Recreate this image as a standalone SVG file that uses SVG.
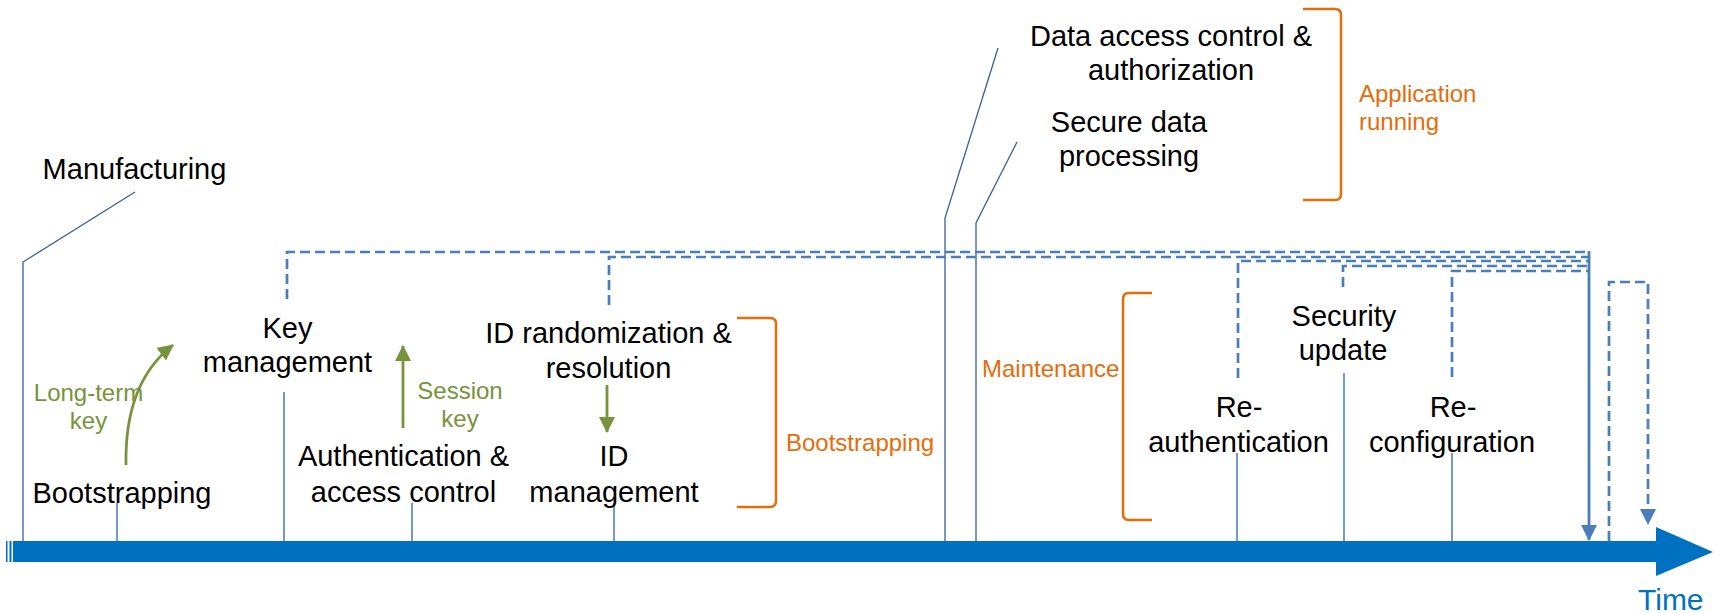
<svg xmlns="http://www.w3.org/2000/svg" width="1719" height="613" viewBox="0 0 1719 613">
<style>
text{font-family:"Liberation Sans",Arial,sans-serif}
.lbl{font-size:29px;fill:#000;text-anchor:middle}
.grn{font-size:24px;fill:#77933C;text-anchor:middle}
.org{font-size:24px;fill:#E46C0A}
.tick{stroke:#4F81BD;stroke-width:1.6;fill:none}
.lead{stroke:#3A5F9A;stroke-width:1.3;fill:none}
.dash{stroke:#4A7EBB;stroke-width:2.7;fill:none;stroke-dasharray:10 5}
.brk{stroke:#E46C0A;stroke-width:2.5;fill:none}
.garr{stroke:#77933C;stroke-width:2.8;fill:none}
</style>
<defs>
<marker id="ga" viewBox="0 0 16 16" refX="15" refY="8" markerWidth="16" markerHeight="16" markerUnits="userSpaceOnUse" orient="auto"><path d="M0,0 L16,8 L0,16 z" fill="#77933C"/></marker>
<marker id="ba" viewBox="0 0 16 16" refX="15" refY="8" markerWidth="16" markerHeight="17" markerUnits="userSpaceOnUse" orient="auto"><path d="M0,0 L16,8 L0,16 z" fill="#4A7EBB"/></marker>
</defs>

<g id="timeline">
<rect x="6" y="541" width="1.5" height="21" fill="#0070C0"/>
<rect x="9.5" y="541" width="2" height="21" fill="#0070C0"/>
<rect x="13" y="541" width="1645" height="21" fill="#0070C0"/>
<polygon points="1656,527 1713,552 1656,576" fill="#0070C0"/>
<text x="1638" y="610" style="font-size:30px;fill:#0070C0">Time</text>
</g>

<g id="connectors">
<path class="lead" d="M135,192 L23,262 L23,541"/>
<path class="lead" d="M998,48 L945,218 L945,541"/>
<path class="lead" d="M1017,142 L976,223 L976,541"/>
<line class="tick" x1="117" y1="503" x2="117" y2="541"/>
<line class="tick" x1="284" y1="392" x2="284" y2="541"/>
<line class="tick" x1="412" y1="503" x2="412" y2="541"/>
<line class="tick" x1="614" y1="503" x2="614" y2="541"/>
<line class="tick" x1="1237" y1="453" x2="1237" y2="541"/>
<line class="tick" x1="1344" y1="373" x2="1344" y2="541"/>
<line class="tick" x1="1452" y1="453" x2="1452" y2="541"/>
<path class="dash" d="M287,299 L287,252 L1588,252"/>
<path class="dash" d="M609,305 L609,257 L1588,257"/>
<path class="dash" d="M1238,378 L1238,261 L1588,261"/>
<path class="dash" d="M1343,287 L1343,266 L1588,266"/>
<path class="dash" d="M1452,377 L1452,271 L1588,271"/>
<path d="M1589,251 L1589,540" stroke="#4A7EBB" stroke-width="2.8" fill="none" marker-end="url(#ba)"/>
<path class="dash" d="M1609,541 L1609,282 L1648,282 L1648,524" marker-end="url(#ba)"/>
<path class="garr" d="M126,465 C125,413 138,372 173,345" marker-end="url(#ga)"/>
<path class="garr" d="M403,428 L403,346" marker-end="url(#ga)"/>
<path class="garr" d="M607,385 L607,432" marker-end="url(#ga)"/>
</g>

<g id="manufacturing"><text class="lbl" x="134.5" y="179">Manufacturing</text></g>
<g id="bootstrapping"><text class="lbl" x="122" y="503">Bootstrapping</text></g>
<g id="long-term-key"><text class="grn" x="88.5" y="401">Long-term</text><text class="grn" x="88.5" y="429">key</text></g>
<g id="key-management"><text class="lbl" x="287.5" y="338">Key</text><text class="lbl" x="287.5" y="372">management</text></g>
<g id="session-key"><text class="grn" x="460" y="399">Session</text><text class="grn" x="460" y="427">key</text></g>
<g id="authentication"><text class="lbl" x="403.5" y="466">Authentication &amp;</text><text class="lbl" x="403.5" y="502">access control</text></g>
<g id="id-randomization"><text class="lbl" x="608.5" y="343">ID randomization &amp;</text><text class="lbl" x="608.5" y="378">resolution</text></g>
<g id="id-management"><text class="lbl" x="614" y="466">ID</text><text class="lbl" x="614" y="502">management</text></g>
<g id="bootstrapping-phase">
<path class="brk" d="M737,318 L770,318 Q776,318 776,324 L776,501 Q776,507 770,507 L737,507"/>
<text class="org" x="786" y="451">Bootstrapping</text>
</g>
<g id="data-access"><text class="lbl" x="1171" y="46">Data access control &amp;</text><text class="lbl" x="1171" y="80">authorization</text></g>
<g id="secure-data"><text class="lbl" x="1129" y="132">Secure data</text><text class="lbl" x="1129" y="166">processing</text></g>
<g id="application-running">
<path class="brk" d="M1303,9 L1335,9 Q1341,9 1341,15 L1341,194 Q1341,200 1335,200 L1303,200"/>
<text class="org" x="1359" y="102">Application</text>
<text class="org" x="1359" y="130">running</text>
</g>
<g id="maintenance">
<path class="brk" d="M1152,293 L1129,293 Q1123,293 1123,299 L1123,514 Q1123,520 1129,520 L1152,520"/>
<text class="org" x="982" y="377">Maintenance</text>
</g>
<g id="re-authentication"><text class="lbl" x="1239" y="417">Re-</text><text class="lbl" x="1238.5" y="452">authentication</text></g>
<g id="security-update"><text class="lbl" x="1344" y="326">Security</text><text class="lbl" x="1343" y="360">update</text></g>
<g id="re-configuration"><text class="lbl" x="1453" y="417">Re-</text><text class="lbl" x="1452" y="452">configuration</text></g>
</svg>
